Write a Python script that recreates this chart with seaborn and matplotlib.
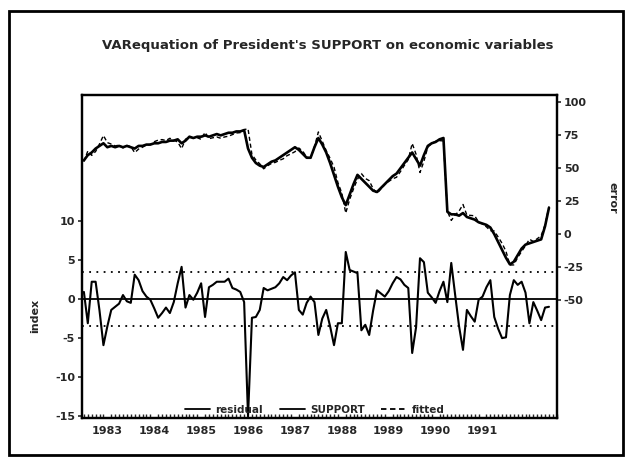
import numpy as np
import pandas as pd
import matplotlib
matplotlib.use("Agg")
import matplotlib.pyplot as plt
from matplotlib.patches import Rectangle
from matplotlib.lines import Line2D
import seaborn as sns

# monthly observations, 1982:07 .. 1992:06
start_year = 1982.5
support = [56, 60, 62, 65, 67, 69, 66, 67, 66, 67, 66, 67, 66, 65, 67, 67, 68, 68, 69, 69,
           70, 70, 71, 71, 72, 69, 71, 74, 73, 74, 74, 75, 74, 75, 76, 75, 76, 77, 77, 78,
           78, 79, 65, 58, 54, 52, 51, 53, 55, 56, 58, 60, 62, 64, 66, 64, 61, 58, 58, 66,
           73, 68, 62, 54, 45, 36, 28, 22, 30, 38, 45, 42, 39, 36, 33, 32, 35, 38, 41, 44,
           46, 50, 54, 58, 62, 57, 52, 60, 67, 69, 70, 72, 73, 17, 15, 15, 14, 16, 13, 12,
           11, 9, 8, 7, 5, 0, -6, -12, -18, -23, -21, -16, -11, -8, -7, -6, -5, -4, 6, 20]
fitted = [55.1, 63.1, 59.8, 62.8, 68.5, 74.9, 69.5, 68.4, 67.0, 67.6, 65.5, 67.3, 66.5, 61.9,
          64.6, 66.0, 67.7, 68.1, 70.2, 71.4, 71.8, 71.1, 72.8, 71.4, 70.0, 64.9, 72.1, 73.5,
          73.1, 73.2, 72.0, 77.3, 72.5, 73.2, 73.8, 72.8, 73.8, 74.4, 75.6, 76.8, 77.1, 79.4,
          80.0, 60.4, 56.3, 53.4, 49.6, 51.9, 53.7, 54.5, 56.0, 57.2, 59.6, 61.0, 62.6, 65.4,
          63.0, 58.5, 57.7, 66.4, 77.6, 70.5, 63.4, 57.5, 50.9, 39.1, 31.1, 16.0, 26.3, 34.5,
          41.7, 46.0, 42.3, 40.6, 34.5, 30.9, 34.3, 37.7, 40.0, 42.0, 43.2, 47.5, 52.2, 56.6,
          68.9, 60.6, 46.8, 55.3, 66.2, 68.8, 70.5, 71.0, 70.8, 17.4, 10.4, 14.5, 17.5, 22.5,
          14.4, 14.2, 13.9, 9.1, 7.7, 5.5, 2.6, 2.3, -2.2, -7.0, -13.1, -23.5, -23.4, -17.8,
          -13.2, -8.8, -3.9, -5.6, -3.5, -1.3, 7.1, 21.0]
residual = [0.9, -3.1, 2.2, 2.2, -1.5, -5.9, -3.5, -1.4, -1.0, -0.6, 0.5, -0.3, -0.5, 3.1,
            2.4, 1.0, 0.3, -0.1, -1.2, -2.4, -1.8, -1.1, -1.8, -0.4, 2.0, 4.1, -1.1, 0.5,
            -0.1, 0.8, 2.0, -2.3, 1.5, 1.8, 2.2, 2.2, 2.2, 2.6, 1.4, 1.2, 0.9, -0.4, -15.0,
            -2.4, -2.3, -1.4, 1.4, 1.1, 1.3, 1.5, 2.0, 2.8, 2.4, 3.0, 3.4, -1.4, -2.0, -0.5,
            0.3, -0.4, -4.6, -2.5, -1.4, -3.5, -5.9, -3.1, -3.1, 6.0, 3.7, 3.5, 3.3, -4.0,
            -3.3, -4.6, -1.5, 1.1, 0.7, 0.3, 1.0, 2.0, 2.8, 2.5, 1.8, 1.4, -6.9, -3.6, 5.2,
            4.7, 0.8, 0.2, -0.5, 1.0, 2.2, -0.4, 4.6, 0.5, -3.5, -6.5, -1.4, -2.2, -2.9,
            -0.1, 0.3, 1.5, 2.4, -2.3, -3.8, -5.0, -4.9, 0.5, 2.4, 1.8, 2.2, 0.8, -3.1,
            -0.4, -1.5, -2.7, -1.1, -1.0]
band = 3.5
year_labels = [1983, 1984, 1985, 1986, 1987, 1988, 1989, 1990, 1991]
left_ticks = [-15, -10, -5, 0, 5, 10]
right_ticks = [-50, -25, 0, 25, 50, 75, 100]

df = pd.DataFrame({"t": start_year + np.arange(len(support)) / 12.0,
                   "SUPPORT": support, "fitted": fitted, "residual": residual})

sns.set_style("white")
plt.rcParams["font.family"] = ["DejaVu Sans"]
plt.rcParams["font.weight"] = "bold"

fig = plt.figure(figsize=(6.28, 4.61), dpi=100)
ax = fig.add_axes([0.1306, 0.0933, 0.756, 0.7007])
ax2 = ax.twinx()

sns.lineplot(data=df, x="t", y="residual", ax=ax, color="black", lw=1.5)
ax.axhline(0, color="black", lw=1.3)
ax.axhline(band, color="black", lw=1.3, ls=(0, (1, 3)))
ax.axhline(-band, color="black", lw=1.3, ls=(0, (1, 3)))

sns.lineplot(data=df, x="t", y="SUPPORT", ax=ax2, color="black", lw=1.9)
sns.lineplot(data=df, x="t", y="fitted", ax=ax2, color="black", lw=1.0, ls=(0, (3, 2)))

ax.set_xlim(df["t"].iloc[0] - 0.04, df["t"].iloc[-1] + 0.04)
ax.set_ylim(-15.2, 26.05)
ax2.set_ylim(-139.7, 105.7)

ax.set_xticks(year_labels)
ax.set_xticklabels([str(y) for y in year_labels], fontsize=8, fontweight="bold")
ax.set_xticks(np.arange(1982.5, 1992.6, 1 / 12.0), minor=True)
ax.tick_params(axis="x", which="major", direction="in", length=6, width=1.2, pad=6)
ax.tick_params(axis="x", which="minor", direction="in", length=3, width=1, bottom=True)
ax.set_yticks(left_ticks)
ax.set_yticklabels([str(v) for v in left_ticks], fontsize=8, fontweight="bold")
ax.tick_params(axis="y", direction="out", length=3, width=1.2, left=True, pad=2)
ax2.set_yticks(right_ticks)
ax2.set_yticklabels([str(v) for v in right_ticks], fontsize=8, fontweight="bold")
ax2.tick_params(axis="y", direction="out", length=3, width=1.2, right=True, pad=2)
ax.set_xlabel("")
ax.set_ylabel("")
ax2.set_ylabel("")
for a in (ax, ax2):
    for s in a.spines.values():
        s.set_color("black")
        s.set_linewidth(1.6)

handles = [Line2D([], [], color="black", lw=1.3),
           Line2D([], [], color="black", lw=1.3),
           Line2D([], [], color="black", lw=1.3, ls=(0, (3, 2)))]
ax2.legend(handles, ["residual", "SUPPORT", "fitted"], loc="lower center",
           bbox_to_anchor=(0.49, -0.02), ncol=3, frameon=False, handlelength=2.4,
           handletextpad=0.5, columnspacing=1.6, prop={"size": 7.5, "weight": "bold"})

fig.text(0.522, 0.902, "VARequation of President's SUPPORT on economic variables",
         ha="center", va="center", fontsize=9.5, fontweight="bold")
fig.text(0.056, 1 - 316 / 461, "index", rotation=90, ha="center", va="center",
         fontsize=8, fontweight="bold")
fig.text(0.976, 1 - 198 / 461, "error", rotation=270, ha="center", va="center",
         fontsize=8, fontweight="bold")

fig.patches.append(Rectangle((0.0143, 0.013), 0.978, 0.963, transform=fig.transFigure,
                             fill=False, edgecolor="black", lw=2))

fig.savefig("out.png", dpi=100)
